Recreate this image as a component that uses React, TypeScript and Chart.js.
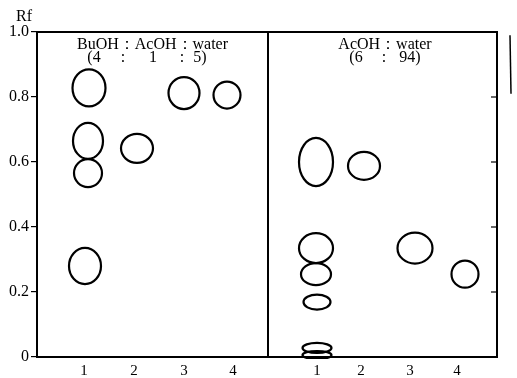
import React, { useEffect, useRef } from "react";
import { Chart, registerables } from "chart.js";

Chart.register(...registerables);

// Lane tick positions (lane axis units) and their labels
const laneTickPos = [0.94, 1.94, 2.94, 3.92, 5.6, 6.48, 7.46, 8.4];
const laneTickLabels = ["1", "2", "3", "4", "1", "2", "3", "4"];
const rfTicks = [0, 0.2, 0.4, 0.6, 0.8, 1.0];
const panelDivider = 4.62;

// BuOH : AcOH : water (4:1:5) spots
const buLane = [1.04, 1.02, 1.02, 0.96, 2.0, 2.94, 3.8];
const buRf = [0.828, 0.665, 0.566, 0.28, 0.642, 0.812, 0.806];
const buSpotW = [0.66, 0.6, 0.56, 0.64, 0.64, 0.62, 0.54];
const buSpotH = [0.114, 0.111, 0.086, 0.111, 0.089, 0.098, 0.083];

// AcOH : water (6:94) spots
const acLane = [5.58, 5.58, 5.58, 5.6, 5.6, 5.6, 6.54, 7.56, 8.56];
const acRf = [0.6, 0.335, 0.255, 0.169, 0.028, 0.006, 0.588, 0.335, 0.255];
const acSpotW = [0.68, 0.68, 0.6, 0.54, 0.58, 0.58, 0.64, 0.7, 0.54];
const acSpotH = [0.148, 0.092, 0.068, 0.046, 0.031, 0.025, 0.086, 0.095, 0.083];

const SERIF = "'Liberation Serif', 'DejaVu Serif', serif";

function toPoints(lane: number[], rf: number[], w: number[], h: number[]) {
  return lane.map((x, i) => ({ x, y: rf[i], w: w[i], h: h[i] }));
}

const spotPlugin = {
  id: "spots",
  afterDatasetsDraw(chart: any) {
    const { ctx, chartArea, scales } = chart;
    const xs = scales.x;
    const ys = scales.y;
    ctx.save();
    ctx.beginPath();
    ctx.rect(chartArea.left, chartArea.top, chartArea.right - chartArea.left, chartArea.bottom - chartArea.top + 2);
    ctx.clip();
    ctx.strokeStyle = "#000";
    ctx.lineWidth = 2.2;
    chart.data.datasets.forEach((ds: any) => {
      ds.data.forEach((p: any) => {
        const cx = xs.getPixelForValue(p.x);
        const cy = ys.getPixelForValue(p.y);
        const rx = Math.abs(xs.getPixelForValue(p.x + p.w / 2) - cx);
        const ry = Math.abs(ys.getPixelForValue(p.y + p.h / 2) - cy);
        ctx.beginPath();
        ctx.ellipse(cx, cy, rx, ry, 0, 0, Math.PI * 2);
        ctx.stroke();
      });
    });
    ctx.restore();
  },
  afterDraw(chart: any) {
    const { ctx, chartArea, scales } = chart;
    const xs = scales.x;
    const ys = scales.y;
    const { left, right, top, bottom } = chartArea;
    ctx.save();
    ctx.strokeStyle = "#000";
    ctx.lineWidth = 2;
    // frame top & right
    ctx.beginPath();
    ctx.moveTo(left, top);
    ctx.lineTo(right, top);
    ctx.lineTo(right, bottom);
    ctx.stroke();
    // divider
    const dx = xs.getPixelForValue(panelDivider);
    ctx.beginPath();
    ctx.moveTo(dx, top);
    ctx.lineTo(dx, bottom);
    ctx.stroke();
    // inward ticks on right
    ctx.lineWidth = 1.2;
    [0.2, 0.4, 0.6, 0.8].forEach((v) => {
      const y = ys.getPixelForValue(v);
      ctx.beginPath();
      ctx.moveTo(right - 6, y);
      ctx.lineTo(right, y);
      ctx.stroke();
    });
    // margin mark at right edge of the page
    ctx.lineWidth = 1.5;
    ctx.beginPath();
    ctx.moveTo(510, ys.getPixelForValue(0.99));
    ctx.lineTo(511, ys.getPixelForValue(0.81));
    ctx.stroke();
    // texts
    ctx.fillStyle = "#000";
    ctx.textBaseline = "middle";
    ctx.textAlign = "center";
    ctx.font = `16px ${SERIF}`;
    ctx.fillText("Rf", 24, 17);
    ctx.font = `16px ${SERIF}`;
    const l1 = top + 13;
    const l2 = top + 26;
    ctx.fillText("BuOH\uFF1AAcOH\uFF1Awater", xs.getPixelForValue(2.31), l1);
    const sub1: [string, number][] = [["(4", 1.14], [":", 1.72], ["1", 2.32], [":", 2.9], ["5)", 3.26]];
    sub1.forEach(([t, v]) => ctx.fillText(t, xs.getPixelForValue(v), l2));
    ctx.fillText("AcOH\uFF1Awater", xs.getPixelForValue(6.96), l1);
    const sub2: [string, number][] = [["(6", 6.38], [":", 6.94], ["94)", 7.46]];
    sub2.forEach(([t, v]) => ctx.fillText(t, xs.getPixelForValue(v), l2));
    ctx.restore();
  },
};

export default function App() {
  const ref = useRef<HTMLCanvasElement | null>(null);
  useEffect(() => {
    if (!ref.current) return;
    const chart = new Chart(ref.current, {
      type: "scatter",
      data: {
        datasets: [
          {
            label: "BuOH:AcOH:water",
            data: toPoints(buLane, buRf, buSpotW, buSpotH),
            pointRadius: 0,
            pointHoverRadius: 0,
            showLine: false,
          },
          {
            label: "AcOH:water",
            data: toPoints(acLane, acRf, acSpotW, acSpotH),
            pointRadius: 0,
            pointHoverRadius: 0,
            showLine: false,
          },
        ],
      },
      options: {
        responsive: false,
        animation: false,
        layout: { padding: { top: 32, right: 20, left: 0, bottom: 0 } },
        plugins: { legend: { display: false }, tooltip: { enabled: false } },
        events: [],
        scales: {
          x: {
            type: "linear",
            min: 0,
            max: 9.2,
            position: "bottom",
            grid: { display: false, drawTicks: false },
            border: { display: true, color: "#000", width: 2 },
            afterBuildTicks: (scale: any) => {
              scale.ticks = laneTickPos.map((v) => ({ value: v }));
            },
            afterFit: (scale: any) => {
              scale.height = 21;
            },
            ticks: {
              autoSkip: false,
              maxRotation: 0,
              padding: 5,
              color: "#000",
              font: { family: SERIF, size: 15 },
              callback: (_v: any, i: number) => laneTickLabels[i],
            },
          },
          y: {
            type: "linear",
            min: 0,
            max: 1,
            position: "left",
            grid: { drawOnChartArea: false, drawTicks: true, tickLength: 6, color: "#000", lineWidth: 1.2 },
            border: { display: true, color: "#000", width: 2 },
            afterBuildTicks: (scale: any) => {
              scale.ticks = rfTicks.map((v) => ({ value: v }));
            },
            afterFit: (scale: any) => {
              scale.width = 37;
            },
            ticks: {
              padding: 2,
              color: "#000",
              font: { family: SERIF, size: 16 },
              callback: (v: any) => (v === 0 ? "0" : Number(v).toFixed(1)),
            },
          },
        },
      },
      plugins: [spotPlugin],
    });
    return () => chart.destroy();
  }, []);
  return (
    <div style={{ position: "fixed", left: 0, top: 0, width: 517, height: 378, background: "#fff" }}>
      <canvas ref={ref} width={517} height={378} style={{ display: "block", width: 517, height: 378 }} />
    </div>
  );
}
